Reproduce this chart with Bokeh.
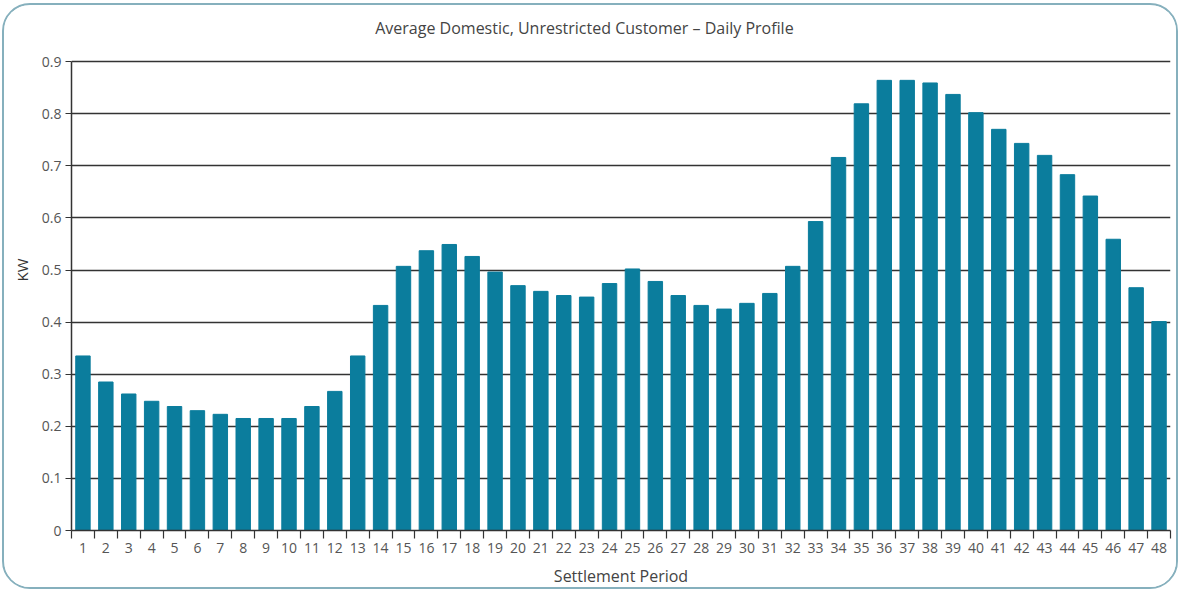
from bokeh.plotting import figure
from bokeh.models import Range1d, FixedTicker, Label
from bokeh.embed import file_html
from bokeh.resources import INLINE

title_text = "Average Domestic, Unrestricted Customer \u2013  Daily Profile"
x_label = "Settlement Period"
y_label = "KW"

periods = list(range(1, 49))
kw = [0.335, 0.285, 0.262, 0.248, 0.238, 0.230, 0.223, 0.215, 0.215, 0.215,
      0.238, 0.267, 0.335, 0.432, 0.507, 0.537, 0.549, 0.526, 0.496, 0.470,
      0.459, 0.451, 0.448, 0.474, 0.502, 0.478, 0.451, 0.432, 0.425, 0.436,
      0.455, 0.507, 0.593, 0.716, 0.819, 0.864, 0.864, 0.859, 0.837, 0.802,
      0.770, 0.743, 0.720, 0.683, 0.642, 0.559, 0.466, 0.401]
y_ticks = [0, 0.1, 0.2, 0.3, 0.4, 0.5, 0.6, 0.7, 0.8, 0.9]
y_tick_labels = ["0", "0.1", "0.2", "0.3", "0.4", "0.5", "0.6", "0.7", "0.8", "0.9"]

FONT = "Open Sans"

# frame extends above the 0.9 line so the title can sit inside it
p = figure(width=1176, height=586, output_backend="svg", toolbar_location=None,
           x_range=Range1d(0.5, 48.5), y_range=Range1d(0, 1.0),
           min_border_left=67, min_border_right=10, min_border_top=4, min_border_bottom=61,
           styles={"border": "2px solid #86b0bd", "border-radius": "28px",
                   "margin-left": "2px", "margin-top": "3px", "overflow": "hidden"})
p.outline_line_color = None
p.background_fill_color = "white"
p.border_fill_color = "white"

p.vbar(x=periods, top=kw, width=0.63, color="#0b7d9d")

title = Label(x=515, y=503, x_units="screen", y_units="screen", text=title_text,
              text_font=FONT, text_font_size="16px", text_color="#444444",
              text_align="center", text_baseline="middle")
p.add_layout(title)

# y axis
p.yaxis.ticker = FixedTicker(ticks=y_ticks)
p.yaxis.bounds = (0, 0.9)
p.yaxis.major_label_overrides = {v: s for v, s in zip(y_ticks, y_tick_labels)}
p.yaxis.axis_label = y_label
p.yaxis.axis_label_text_font = FONT
p.yaxis.axis_label_text_font_style = "normal"
p.yaxis.axis_label_text_font_size = "15px"
p.yaxis.axis_label_text_color = "#333333"
p.yaxis.axis_label_standoff = 7
p.yaxis.major_label_text_font = FONT
p.yaxis.major_label_text_font_size = "14px"
p.yaxis.major_label_text_color = "#555555"
p.yaxis.major_label_standoff = 4
p.yaxis.major_tick_out = 6
p.yaxis.major_tick_in = 0
p.yaxis.minor_tick_out = 0
p.yaxis.minor_tick_in = 0
p.yaxis.axis_line_color = "#333333"
p.yaxis.axis_line_width = 1.5
p.yaxis.major_tick_line_color = "#333333"

# x axis
p.xaxis.ticker = FixedTicker(ticks=periods, minor_ticks=[i + 0.5 for i in range(0, 49)])
p.xaxis.axis_label = x_label
p.xaxis.axis_label_text_font = FONT
p.xaxis.axis_label_text_font_style = "normal"
p.xaxis.axis_label_text_font_size = "16px"
p.xaxis.axis_label_text_color = "#444444"
p.xaxis.axis_label_standoff = 9
p.xaxis.major_label_text_font = FONT
p.xaxis.major_label_text_font_size = "14px"
p.xaxis.major_label_text_color = "#555555"
p.xaxis.major_label_standoff = 4
p.xaxis.major_tick_out = 0
p.xaxis.major_tick_in = 0
p.xaxis.minor_tick_out = 8
p.xaxis.minor_tick_in = 0
p.xaxis.minor_tick_line_color = "#333333"
p.xaxis.minor_tick_line_width = 1.2
p.xaxis.axis_line_color = "#333333"
p.xaxis.axis_line_width = 1.5

p.xgrid.grid_line_color = None
p.ygrid.ticker = FixedTicker(ticks=y_ticks)
p.ygrid.grid_line_color = "#333333"
p.ygrid.grid_line_width = 1.5

open("out.html", "w").write(file_html(p, INLINE))
